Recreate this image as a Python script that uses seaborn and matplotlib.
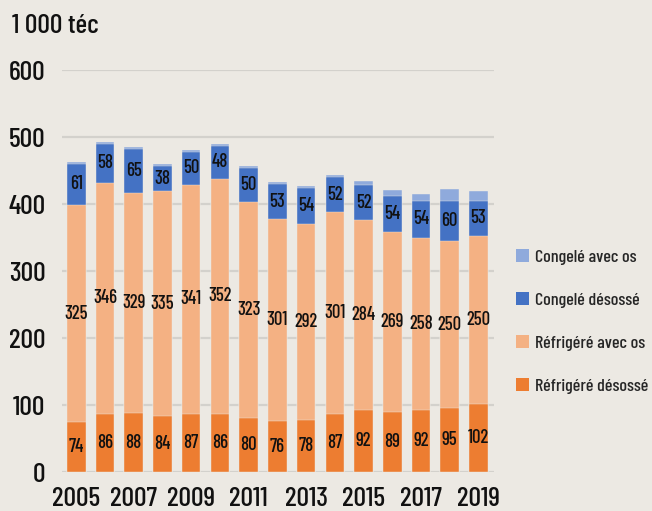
import matplotlib
matplotlib.use("Agg")
import matplotlib.pyplot as plt
from matplotlib.patches import Patch
import seaborn as sns
import numpy as np
import pandas as pd

years = [str(y) for y in range(2005, 2020)]
refrig_desosse = [74, 86, 88, 84, 87, 86, 80, 76, 78, 87, 92, 89, 92, 95, 102]
refrig_avec_os = [325, 346, 329, 335, 341, 352, 323, 301, 292, 301, 284, 269, 258, 250, 250]
congele_desosse = [61, 58, 65, 38, 50, 48, 50, 53, 54, 52, 52, 54, 54, 60, 53]
congele_avec_os = [3, 3, 3, 3, 3, 3, 3, 3, 3, 3, 7, 9, 11, 18, 15]

series_names = ["Réfrigéré désossé", "Réfrigéré avec os", "Congelé désossé", "Congelé avec os"]
series_values = [refrig_desosse, refrig_avec_os, congele_desosse, congele_avec_os]
colors = ["#ED7D31", "#F4B183", "#4472C4", "#8FAADC"]
bg = "#ECE9E3"

sns.set_theme(style="white")
plt.rcParams["font.family"] = ["Barlow Condensed", "Roboto Condensed", "DejaVu Sans"]
plt.rcParams["font.weight"] = 500

fig = plt.figure(figsize=(6.52, 5.11), dpi=100, facecolor=bg)
ax = fig.add_axes([0.095, 0.0763, 0.663, 0.7867])
ax.set_facecolor(bg)

cum = np.cumsum(np.array(series_values), axis=0)
df = pd.DataFrame({"year": years})
# draw from top cumulative to bottom so lower layers overlay upper ones
for i in range(len(series_names) - 1, -1, -1):
    df["v"] = cum[i]
    sns.barplot(data=df, x="year", y="v", color=colors[i], saturation=1,
                width=0.645, ax=ax, zorder=3, edgecolor=bg, linewidth=0.3)

# value labels (skip congelé avec os)
for i in range(3):
    for j, val in enumerate(series_values[i]):
        base = cum[i][j] - val
        ax.text(j, base + val / 2, str(val), ha="center", va="center",
                fontsize=13.5, color="#111111", zorder=5, fontweight=500)

ax.set_xlim(-0.5, 14.55)
ax.set_ylim(0, 600)
ax.set_yticks([0, 100, 200, 300, 400, 500, 600])
ax.set_xticks(range(0, 15, 2))
ax.set_xticklabels(years[::2])
ax.tick_params(axis="y", labelsize=20, pad=12, length=0, colors="#111111")
ax.tick_params(axis="x", labelsize=20, pad=10.5, length=0, colors="#111111")
ax.grid(axis="y", color="#D3D1CC", linewidth=1.6, zorder=0)
ax.set_axisbelow(True)
ax.set_xlabel("")
ax.set_ylabel("")
for s in ax.spines.values():
    s.set_visible(False)

fig.text(0.018, 0.949, "1 000 téc", fontsize=20, color="#111111", ha="left", va="center",
         fontweight=500)

handles = [Patch(facecolor=colors[i], edgecolor="none", label=series_names[i]) for i in range(3, -1, -1)]
fig.legend(handles=handles, loc="upper left", bbox_to_anchor=(0.791, 0.513),
           frameon=False, fontsize=13, labelspacing=1.52, handlelength=0.72,
           handleheight=0.72, handletextpad=0.35, borderpad=0, borderaxespad=0)

fig.savefig("out.png", dpi=100, facecolor=bg)
